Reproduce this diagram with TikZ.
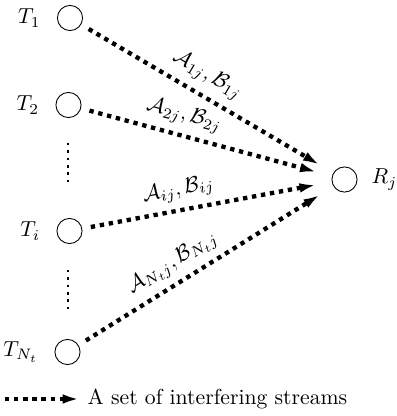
\documentclass[tikz,border=0pt]{standalone}
\usetikzlibrary{arrows.meta,positioning}

\begin{document}
\begin{tikzpicture}[x=0.0162cm,y=-0.0162cm,node distance=4pt,
    user/.style={circle,draw,minimum size=11.6pt,inner sep=0pt},
    stream/.style={line width=2pt,dash pattern=on 2pt off 2.2pt,
      -{Latex[length=8pt,width=4.4pt]},shorten <=4pt,shorten >=7pt},
    vdots/.style={line width=1.1pt,dash pattern=on 1.1pt off 2.3pt}]
    \useasboundingbox (0,0) rectangle (396,416);
    % transmitters and the receiver
    \node[user] (T1) at (70,18) {};
    \node[user] (T2) at (68.5,105) {};
    \node[user] (Ti) at (69.5,231) {};
    \node[user] (TN) at (67.5,352) {};
    \node[user] (R) at (344.5,179.5) {};
    \node[left=of T1] (T1lab) {$T_1$};
    \node[left=of T2] (T2lab) {$T_2$};
    \node[left=of Ti] (Tilab) {$T_i$};
    \node[left=of TN] (TNlab) {$T_{N_t}$};
    \node[right=3pt of R] (Rlab) {$R_j$};
    % streams towards R
    \draw[stream] (T1) -- node[sloped,above,pos=0.46] (s1) {$\mathcal{A}_{1j}, \mathcal{B}_{1j}$} (R);
    \draw[stream] (T2) -- node[sloped,above,pos=0.39] (s2) {$\mathcal{A}_{2j}, \mathcal{B}_{2j}$} (R);
    \draw[stream] (Ti) -- node[sloped,above,pos=0.4] (si) {$\mathcal{A}_{ij}, \mathcal{B}_{ij}$} (R);
    \draw[stream] (TN) -- node[sloped,above,pos=0.41] (sN) {$\mathcal{A}_{N_tj}, \mathcal{B}_{N_tj}$} (R);
    % vertical dots
    \coordinate (d1) at (68,143);
    \coordinate (d2) at (68,183);
    \coordinate (d3) at (68,270);
    \coordinate (d4) at (68,310);
    \draw[vdots] (d1) -- (d2);
    \draw[vdots] (d3) -- (d4);
    % legend
    \coordinate (k1) at (5,399);
    \coordinate (k2) at (80,399);
    \draw[stream,shorten <=0pt,shorten >=0pt] (k1) -- (k2);
    \node[right=0pt of k2] (key) {A set of interfering streams};
\end{tikzpicture}
\end{document}
